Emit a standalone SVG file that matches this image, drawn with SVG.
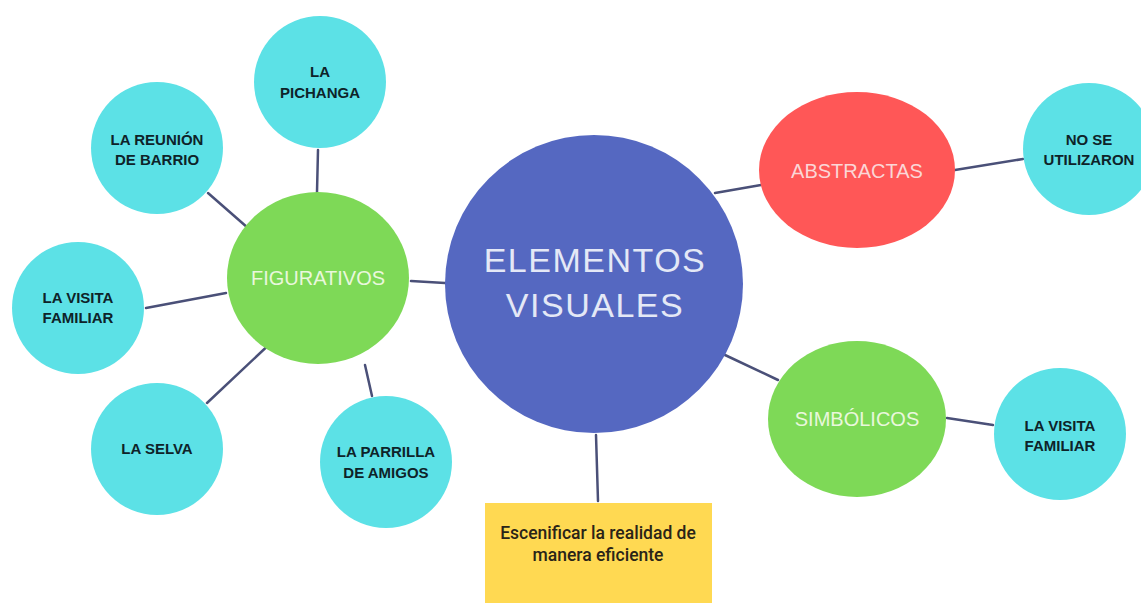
<svg xmlns="http://www.w3.org/2000/svg" width="1141" height="603" viewBox="0 0 1141 603">
<defs>
<style>
.cy{fill:#5ce1e6}
.gr{fill:#7ed957}
.lbl{font-family:"Liberation Sans",Arial,sans-serif;font-weight:bold;font-size:15px;fill:#0e2329;text-anchor:middle}
.mid{font-family:"Liberation Sans",Arial,sans-serif;font-size:20px;text-anchor:middle}
.big{font-family:"Liberation Sans",Arial,sans-serif;font-size:34px;letter-spacing:1.5px;fill:#e4e8f6;text-anchor:middle}
.note{font-family:"Roboto","Liberation Sans",Arial,sans-serif;font-weight:500;font-size:17.5px;fill:#2a2418;text-anchor:middle}
.ln{stroke:#4a5078;stroke-width:2.5;fill:none;stroke-linecap:round}
</style>
</defs>
<rect width="1141" height="603" fill="#ffffff"/>
<g id="connectors">
<line class="ln" x1="318" y1="150" x2="317" y2="192"/>
<line class="ln" x1="208" y1="193" x2="248" y2="228"/>
<line class="ln" x1="146" y1="308" x2="226" y2="293"/>
<line class="ln" x1="207" y1="403" x2="275" y2="339"/>
<line class="ln" x1="365" y1="365" x2="372" y2="396"/>
<line class="ln" x1="411" y1="281" x2="445" y2="283"/>
<line class="ln" x1="715" y1="193" x2="761" y2="185"/>
<line class="ln" x1="955" y1="170" x2="1023" y2="159"/>
<line class="ln" x1="725" y1="355" x2="778" y2="380"/>
<line class="ln" x1="947" y1="418" x2="993" y2="425"/>
<line class="ln" x1="596" y1="435" x2="598" y2="501"/>
</g>
<g id="elementos-visuales">
<circle cx="594" cy="284" r="149" fill="#5568c1"/>
<text class="big" x="595" y="272">ELEMENTOS</text>
<text class="big" x="595" y="317">VISUALES</text>
</g>
<g id="figurativos">
<ellipse class="gr" cx="318" cy="278" rx="91" ry="86"/>
<text class="mid" x="318" y="285" fill="#e9f7dc">FIGURATIVOS</text>
</g>
<g id="la-pichanga">
<circle class="cy" cx="320" cy="82" r="66"/>
<text class="lbl" x="320" y="77">LA</text>
<text class="lbl" x="320" y="98">PICHANGA</text>
</g>
<g id="la-reunion">
<circle class="cy" cx="157" cy="148" r="66"/>
<text class="lbl" x="157" y="145">LA REUNIÓN</text>
<text class="lbl" x="157" y="165">DE BARRIO</text>
</g>
<g id="la-visita-familiar-1">
<circle class="cy" cx="78" cy="308" r="66"/>
<text class="lbl" x="78" y="303">LA VISITA</text>
<text class="lbl" x="78" y="323">FAMILIAR</text>
</g>
<g id="la-selva">
<circle class="cy" cx="157" cy="449" r="66"/>
<text class="lbl" x="157" y="454">LA SELVA</text>
</g>
<g id="la-parrilla">
<circle class="cy" cx="386" cy="462" r="66"/>
<text class="lbl" x="386" y="457">LA PARRILLA</text>
<text class="lbl" x="386" y="478">DE AMIGOS</text>
</g>
<g id="abstractas">
<ellipse cx="857" cy="170" rx="98" ry="78" fill="#ff5757"/>
<text class="mid" x="857" y="178" fill="#fbd6d6">ABSTRACTAS</text>
</g>
<g id="no-se-utilizaron">
<circle class="cy" cx="1089" cy="149" r="66"/>
<text class="lbl" x="1089" y="145">NO SE</text>
<text class="lbl" x="1089" y="165">UTILIZARON</text>
</g>
<g id="simbolicos">
<ellipse class="gr" cx="857" cy="419" rx="89" ry="78"/>
<text class="mid" x="857" y="426" fill="#e9f7dc">SIMBÓLICOS</text>
</g>
<g id="la-visita-familiar-2">
<circle class="cy" cx="1060" cy="434" r="66"/>
<text class="lbl" x="1060" y="431">LA VISITA</text>
<text class="lbl" x="1060" y="451">FAMILIAR</text>
</g>
<g id="escenificar">
<rect x="485" y="503" width="227" height="100" fill="#ffd952"/>
<text class="note" x="598" y="539">Escenificar la realidad de</text>
<text class="note" x="598" y="561">manera eficiente</text>
</g>
</svg>
